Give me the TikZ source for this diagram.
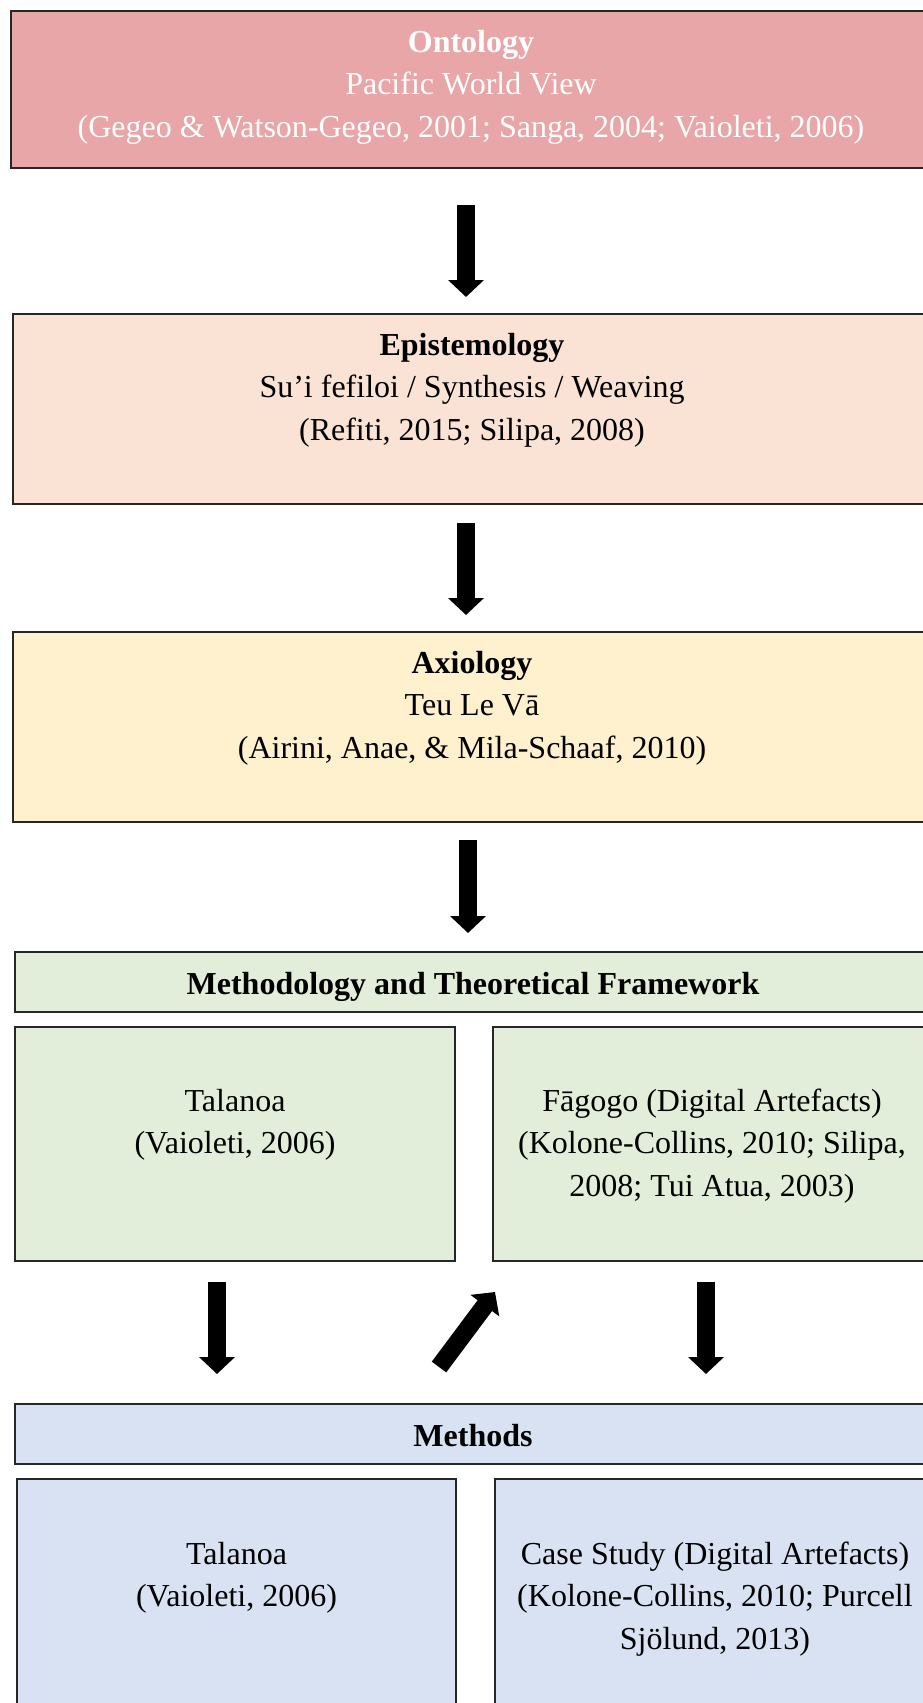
\documentclass[tikz,border=0pt]{standalone}
\usepackage{fontspec}
\setmainfont{Liberation Serif}
\usetikzlibrary{arrows.meta,calc}
\definecolor{ontoc}{HTML}{E8A6A8}
\definecolor{epic}{HTML}{FAE3D5}
\definecolor{axic}{HTML}{FFF1CD}
\definecolor{grnc}{HTML}{E2EED9}
\definecolor{bluc}{HTML}{D9E2F2}
\definecolor{bordc}{HTML}{262626}
\begin{document}
\begin{tikzpicture}[x=1pt,y=-1pt,
  box/.style={draw=bordc, line width=1.3pt, outer sep=0pt, inner sep=0pt},
  txt/.style={align=center, inner sep=0pt, font=\fontsize{32}{42.5}\selectfont},
  headtxt/.style={txt, text height=26pt, text depth=2pt},
  barrow/.style={draw=black, line width=18pt, -{Triangle[length=17pt,width=35pt]}}]
\useasboundingbox[fill=white] (0,0) rectangle (922,1703);
% boxes
\node[box, fill=ontoc, minimum width=920pt, minimum height=157pt] (onto) at (471,89.5) {};
\node[box, fill=epic, minimum width=918pt, minimum height=190pt] (epi) at (472,409) {};
\node[box, fill=axic, minimum width=918pt, minimum height=190pt] (axi) at (472,727) {};
\node[box, fill=grnc, minimum width=916pt, minimum height=60pt, headtxt] (mth) at (473,982) {\textbf{Methodology and Theoretical Framework}};
\node[box, fill=grnc, minimum width=440pt, minimum height=234pt] (tal) at (235,1144) {};
\node[box, fill=grnc, minimum width=438pt, minimum height=234pt] (fag) at (712,1144) {};
\node[box, fill=bluc, minimum width=916pt, minimum height=60pt, headtxt] (mts) at (473,1434) {\textbf{Methods}};
\node[box, fill=bluc, minimum width=439pt, minimum height=241pt] (tal2) at (236.5,1599.5) {};
\node[box, fill=bluc, minimum width=440pt, minimum height=241pt] (cas) at (715,1599.5) {};
% texts
\node[txt, text=white] (ontot) at (471,87) {\textbf{Ontology}\\Pacific World View\\(Gegeo \& Watson-Gegeo, 2001; Sanga, 2004; Vaioleti, 2006)};
\node[txt] (epit) at (472,390) {\textbf{Epistemology}\\Su’i fefiloi / Synthesis / Weaving\\(Refiti, 2015; Silipa, 2008)};
\node[txt] (axit) at (472,708) {\textbf{Axiology}\\Teu Le Vā\\(Airini, Anae, \& Mila-Schaaf, 2010)};
\node[txt] (talt) at (235,1125) {Talanoa\\(Vaioleti, 2006)};
\node[txt] (fagt) at (712,1146) {Fāgogo (Digital Artefacts)\\(Kolone-Collins, 2010; Silipa,\\2008; Tui Atua, 2003)};
\node[txt] (tal2t) at (236.5,1578) {Talanoa\\(Vaioleti, 2006)};
\node[txt] (cast) at (715,1599) {Case Study (Digital Artefacts)\\(Kolone-Collins, 2010; Purcell\\Sjölund, 2013)};
% arrows
\draw[barrow] ($(onto.south)+(-5,37)$) -- ($(epi.north)+(-6,-17)$);
\draw[barrow] ($(epi.south)+(-6,19)$) -- ($(axi.north)+(-6,-17)$);
\draw[barrow] ($(axi.south)+(-4,18)$) -- ($(mth.north)+(-5,-19)$);
\draw[barrow] ($(tal.south)+(-18,21)$) -- ($(tal.south)+(-18,113)$);
\draw[barrow] ($(fag.south)+(-6,21)$) -- ($(fag.south)+(-6,113)$);
\draw[barrow] ($(tal.south east)+(-16,106)$) -- ($(fag.south west)+(2,31)$);
\end{tikzpicture}
\end{document}
